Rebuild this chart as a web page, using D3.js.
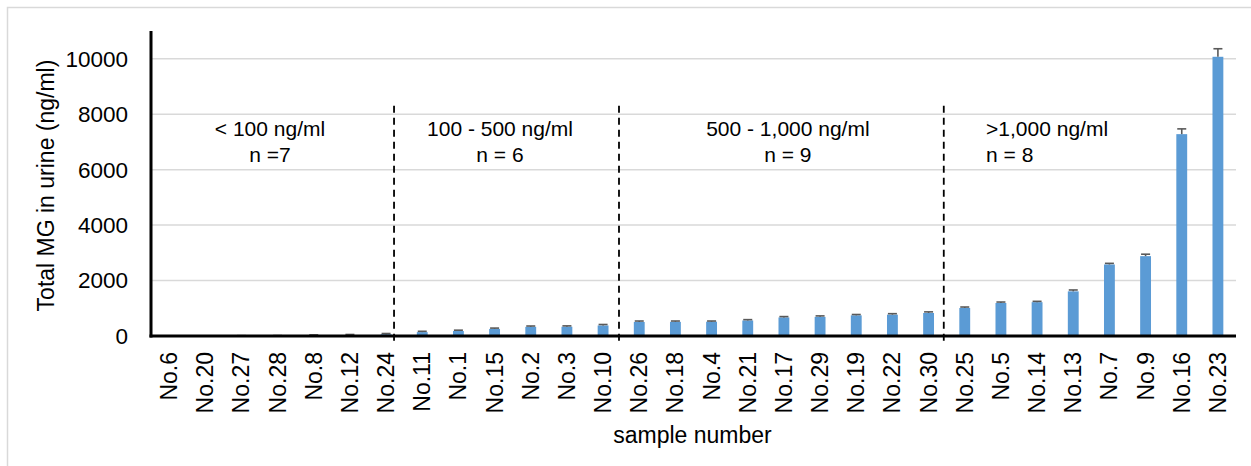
<!DOCTYPE html>
<html>
<head>
<meta charset="utf-8">
<script src="https://cdn.jsdelivr.net/npm/d3@7"></script>
<style>
  body { margin: 0; background: #fff; }
  text { font-family: Arial, "Liberation Sans", sans-serif; fill: #000; }
</style>
</head>
<body>
<div id="chart"></div>
<script>
/*************
Data
**************/
var samples = ["No.6", "No.20", "No.27", "No.28", "No.8", "No.12", "No.24",
  "No.11", "No.1", "No.15", "No.2", "No.3", "No.10",
  "No.26", "No.18", "No.4", "No.21", "No.17", "No.29", "No.19", "No.22", "No.30",
  "No.25", "No.5", "No.14", "No.13", "No.7", "No.9", "No.16", "No.23"];

var values = [3, 5, 8, 10, 25, 35, 65,
  140, 180, 255, 330, 335, 380,
  505, 510, 515, 560, 670, 690, 745, 770, 830,
  1010, 1190, 1220, 1610, 2580, 2880, 7280, 10070];

var errors = [2, 3, 4, 5, 15, 20, 25,
  30, 30, 30, 30, 30, 35,
  35, 30, 25, 30, 30, 35, 30, 35, 40,
  35, 35, 30, 50, 40, 70, 190, 290];

var yTicks = [0, 2000, 4000, 6000, 8000, 10000];

// group dividers, in category units from the left of the plot
var dividers = [6.72, 12.94, 21.92];

var groupLines1 = ["< 100 ng/ml", "100 - 500 ng/ml", "500 - 1,000 ng/ml", ">1,000 ng/ml"];
var groupLines2 = ["n =7", "n = 6", "n = 9", "n = 8"];
var groupPos = [3.29, 9.65, 17.61, 23.09];
var groupAnchor = ["middle", "middle", "middle", "start"];

/*************
Params
**************/
var W = 1251, H = 466;
var plotL = 151, plotR = 1236, plotT = 31, plotB = 336;

var svg = d3.select("#chart").append("svg")
  .attr("width", W)
  .attr("height", H);

// outer frame (only top and left edges fall inside the picture)
svg.append("rect")
  .attr("x", 7.5).attr("y", 7.5)
  .attr("width", W).attr("height", H)
  .attr("fill", "none")
  .attr("stroke", "#d9d9d9")
  .attr("stroke-width", 1.5);

var x = d3.scaleBand()
  .domain(samples)
  .range([plotL, plotR])
  .paddingInner(0)
  .paddingOuter(0);

var y = d3.scaleLinear()
  .domain([0, 11000])
  .range([plotB, plotT]);

var barW = x.bandwidth() * 0.3;

// gridlines
svg.append("g")
  .selectAll("line")
  .data(yTicks.filter(d => d > 0))
  .enter().append("line")
  .attr("x1", plotL).attr("x2", plotR)
  .attr("y1", d => y(d)).attr("y2", d => y(d))
  .attr("stroke", "#d9d9d9")
  .attr("stroke-width", 1.5);

// y tick labels
svg.append("g")
  .selectAll("text")
  .data(yTicks)
  .enter().append("text")
  .attr("x", plotL - 23)
  .attr("y", d => y(d))
  .attr("dy", "0.35em")
  .attr("text-anchor", "end")
  .style("font-size", "22.5px")
  .text(d => d);

// bars
svg.append("g")
  .selectAll("rect")
  .data(values)
  .enter().append("rect")
  .attr("x", (d, i) => x(samples[i]) + (x.bandwidth() - barW) / 2)
  .attr("y", d => y(d))
  .attr("width", barW)
  .attr("height", d => plotB - y(d))
  .attr("fill", "#5b9bd5");

// error bars
var eg = svg.append("g")
  .attr("stroke", "#595959")
  .attr("stroke-width", 1.6);

eg.selectAll("line.stem")
  .data(values)
  .enter().append("line")
  .attr("class", "stem")
  .attr("x1", (d, i) => x(samples[i]) + x.bandwidth() / 2)
  .attr("x2", (d, i) => x(samples[i]) + x.bandwidth() / 2)
  .attr("y1", d => y(d))
  .attr("y2", (d, i) => y(d + errors[i]));

eg.selectAll("line.cap")
  .data(values)
  .enter().append("line")
  .attr("class", "cap")
  .attr("x1", (d, i) => x(samples[i]) + x.bandwidth() / 2 - 4.5)
  .attr("x2", (d, i) => x(samples[i]) + x.bandwidth() / 2 + 4.5)
  .attr("y1", (d, i) => y(d + errors[i]))
  .attr("y2", (d, i) => y(d + errors[i]));

// dashed group dividers
svg.append("g")
  .selectAll("line")
  .data(dividers)
  .enter().append("line")
  .attr("x1", d => plotL + d * x.step())
  .attr("x2", d => plotL + d * x.step())
  .attr("y1", y(8300))
  .attr("y2", plotB + 5)
  .attr("stroke", "#000")
  .attr("stroke-width", 1.8)
  .attr("stroke-dasharray", "7,5");

// group labels
var gl = svg.append("g").style("font-size", "21px");
gl.selectAll("text.l1")
  .data(groupLines1)
  .enter().append("text")
  .attr("class", "l1")
  .attr("x", (d, i) => plotL + groupPos[i] * x.step())
  .attr("y", y(7220))
  .attr("text-anchor", (d, i) => groupAnchor[i])
  .text(d => d);
gl.selectAll("text.l2")
  .data(groupLines2)
  .enter().append("text")
  .attr("class", "l2")
  .attr("x", (d, i) => plotL + groupPos[i] * x.step())
  .attr("y", y(6280))
  .attr("text-anchor", (d, i) => groupAnchor[i])
  .text(d => d);

// axis lines
svg.append("line")
  .attr("x1", plotL).attr("x2", plotL)
  .attr("y1", plotT).attr("y2", plotB + 1.5)
  .attr("stroke", "#000").attr("stroke-width", 3);
svg.append("line")
  .attr("x1", plotL - 1.5).attr("x2", plotR)
  .attr("y1", plotB).attr("y2", plotB)
  .attr("stroke", "#000").attr("stroke-width", 3);

// x tick labels, rotated
svg.append("g")
  .selectAll("text")
  .data(samples)
  .enter().append("text")
  .attr("transform", d => "translate(" + (x(d) + x.bandwidth() / 2) + "," + (plotB + 16) + ") rotate(-90)")
  .attr("dy", "0.35em")
  .attr("text-anchor", "end")
  .style("font-size", "23px")
  .text(d => d);

// axis titles
svg.append("text")
  .attr("transform", "translate(46," + ((plotT + plotB) / 2 + 2) + ") rotate(-90)")
  .attr("dy", "0.35em")
  .attr("text-anchor", "middle")
  .style("font-size", "23px")
  .text("Total MG in urine (ng/ml)");

svg.append("text")
  .attr("x", (plotL + plotR) / 2 - 1)
  .attr("y", 443)
  .attr("text-anchor", "middle")
  .style("font-size", "23px")
  .text("sample number");
</script>
</body>
</html>
